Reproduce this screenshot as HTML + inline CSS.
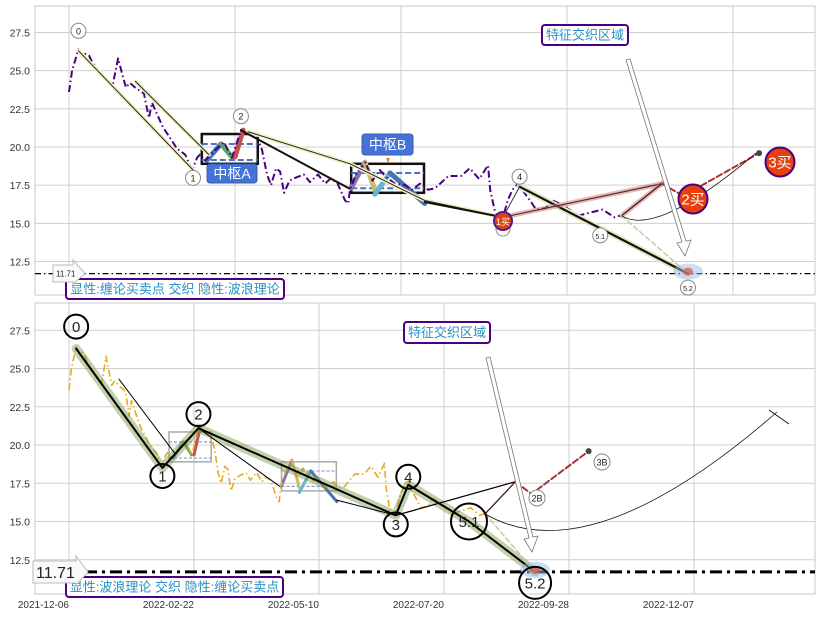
<!DOCTYPE html>
<html><head><meta charset="utf-8">
<style>
html,body{margin:0;padding:0;background:#fff;}
svg{display:block;font-family:"Liberation Sans","Noto Sans CJK SC",sans-serif;}
</style></head>
<body>
<svg id="chart" width="822" height="617" viewBox="0 0 822 617" xmlns="http://www.w3.org/2000/svg"></svg>
<script>
// ---- data ----
const priceIdx = [0,1.3,4,6,7,8.4,10,13,15.6,17.3,18.5,20.7,22.4,24,25.7,27.8,31.6,33.7,35,36.7,39.6,42.6,45.5,49,51,52.3,54,55.2,57.4,61.6,65.4,68.7,72.5,76.3,79.7,81.4,83.5,85.2,87.3,89,90.7,93,95.7,99,101.6,105,108,110,113,116.4,117.7,118.5,121,125,128,131,134,137.5,141.7,144.7,148,151.4,154.4,160,165.3,169,173,176.7,177.6,180,183,185,187,190,192,194.4,197,201,204,208,211,214.7,219.7,225,230,232.4];
const priceVal = [23.6,25.0,26.4,26.0,26.1,26.0,25.5,24.9,24.4,24.2,24.1,25.8,24.8,23.9,24.2,23.9,23.5,21.9,22.9,22.3,21.3,20.6,19.9,19.5,18.8,18.6,19.3,19.5,19.1,19.8,20.3,19.3,21.1,20.8,20.5,19.8,18.2,17.5,18.6,18.4,17.0,17.8,18.0,18.2,17.7,18.2,17.6,17.9,17.7,16.5,16.3,17.2,18.2,19.0,17.8,18.5,18.0,17.6,17.5,17.2,17.6,17.2,17.3,18.1,18.1,18.6,17.9,18.8,17.2,15.5,15.4,16.5,17.2,17.7,17.0,16.5,15.9,16.0,16.5,16.2,15.9,15.5,15.7,15.9,15.4,15.5];
const pivotIdx = [4,52.3,72.5,183,190,224,261];
const pivotVal = [26.3,18.5,21.1,15.4,17.4,15.0,11.71];
const pivotLbl = ["0","1","2","3","4","5.1","5.2"];
const yTicks = [12.5,15,17.5,20,22.5,25,27.5];
const xTickIdx = [0,70,140,210,280,350];
const xTickLbl = ["2021-12-06","2022-02-22","2022-05-10","2022-07-20","2022-09-28","2022-12-07"];
const zsA = [56,79.6,20.85,18.9];  // i0,i1,high,low
const zsAmid = [20.2,19.15];
const zsB = [119,149.7,18.9,17.0];
const zsBmid = [18.3,17.3];
const strokesA = [[58.2,19.15,64.1,20.2,"#4472c4"],[64.1,20.2,68.7,19.35,"#55a868"],[70,19.35,73.4,21.1,"#c44e52"]];
const strokesB = [[118.9,17.3,124.8,19.0,"#8172b2"],[124.8,19.0,129,17.2,"#ccb974"],[129,16.9,135.4,18.3,"#64b5cd"],[135.4,18.3,150,16.3,"#4c72b0"]];
const segLineB = [[28,24.3],[59,19.5]];
const segLineC = [[75.5,21.0],[118.5,18.9],[150,16.5],[183,15.4]];
const segLineD = [[72.5,21.1],[118,17.3]];
const segLineD2 = [[150,16.4],[183,15.4]];
const buyPeak = [250,17.6];
const buyStart = [233,15.5];
const buy2 = [263,16.5];
const buy3 = [291,19.6];
const support = 11.71;

const NS="http://www.w3.org/2000/svg";
const svg=document.getElementById('chart');
function mk(tag,attrs,parent){const e=document.createElementNS(NS,tag);for(const k in attrs)e.setAttribute(k,attrs[k]);(parent||svg).appendChild(e);return e;}

const panels=[
 {name:'top',L:35,R:815,T:6,B:295,sx:166/70,y20:147,sy:15.27,top:true},
 {name:'bottom',L:35,R:815,T:303,B:594,sx:125/70,y20:445,sy:15.3,top:false}
];

panels.forEach(P=>{
 const X=i=>69+i*P.sx, Y=v=>P.y20-(v-20)*P.sy;
 const g=mk('g',{});
 
 
 // gridlines
 yTicks.forEach(t=>{
  const l=mk('line',{x1:P.L,x2:P.R,y1:Y(t),y2:Y(t),stroke:'#cfcfcf','stroke-width':1},g);
  
  
  const tx=mk('text',{x:30,y:Y(t)+4,'font-size':10.5,fill:'#333','text-anchor':'end'},g);
  tx.textContent=t.toFixed(1);
  
  
 });
 xTickIdx.forEach((t,k)=>{
  if(X(t)>P.R)return;
  const l=mk('line',{x1:X(t),x2:X(t),y1:P.T,y2:P.B,stroke:'#cfcfcf','stroke-width':1},g);
  
  
  if(!P.top){
   const tx=mk('text',{x:X(t),y:608,'font-size':10,fill:'#333','text-anchor':'end'},g);
   tx.textContent=xTickLbl[k];
   
   
  }
 });
 const fr=mk('rect',{x:P.L,y:P.T,width:P.R-P.L,height:P.B-P.T,fill:'none',stroke:'#c8c8c8'},g);
 
 

 const poly=(pts,st,w,extra)=>{const p=mk('polyline',Object.assign({points:pts.map(q=>X(q[0])+','+Y(q[1])).join(' '),fill:'none',stroke:st,'stroke-width':w,'stroke-linejoin':'round','stroke-linecap':'round'},extra||{}),g);return p;};

 // support line
 const sl=mk('line',{x1:P.L,x2:P.R,y1:Y(support),y2:Y(support),stroke:'#000','stroke-width':P.top?1.2:3,'stroke-dasharray':P.top?'6,3,1.5,3':'12,5,3,5'},g);
 
 

 // zhongshu boxes
 [[zsA,zsAmid,strokesA,'a'],[zsB,zsBmid,strokesB,'b']].forEach(([z,m,s,n])=>{
  const r=mk('rect',{x:X(z[0]),y:Y(z[2]),width:X(z[1])-X(z[0]),height:Y(z[3])-Y(z[2]),fill:'none',stroke:P.top?'#111':'#aaa','stroke-width':P.top?2.5:1.5},g);
  
  
  m.forEach(v=>{const l=mk('line',{x1:X(z[0]),x2:X(z[1]),y1:Y(v),y2:Y(v),stroke:'#4472c4','stroke-width':P.top?2:0.8,'stroke-dasharray':P.top?'6,3':'3,2'},g);
   
   });
  s.forEach(q=>{const l=mk('line',{x1:X(q[0]),y1:Y(q[1]),x2:X(q[2]),y2:Y(q[3]),stroke:q[4],'stroke-width':P.top?5:3,'stroke-linecap':'round'},g);
   
   });
 });

 // price line
 const pts=priceIdx.map((d,k)=>[d,priceVal[k]]);
 const pl=poly(pts,P.top?'#4b0082':'#e8a820',P.top?2:1.6,{'stroke-dasharray':'7,3,1.5,3','stroke-linecap':'butt'});
 
 

 const piv=pivotIdx.map((d,k)=>[d,pivotVal[k]]);
 if(P.top){
  [segLineB,segLineC].forEach(s=>{poly(s,'#f0f0c0',4);const p=poly(s,'#222',1);});
  const a=[piv[0],piv[1]];poly(a,'#f0f0c0',4);const pa=poly(a,'#222',1);
  const d=poly(segLineD,'#111',2);
  const d2=poly(segLineD2,'#111',2);
  poly([piv[4],piv[6]],'#e8e8c0',6);
  const w=poly([piv[4],piv[6]],'#111',2.2);
  const w3=poly([piv[3],piv[4]],'#333',1);
 } else {
  const h=poly(piv,'rgba(120,150,70,0.45)',9);
  const w=poly(piv,'#000',2);
  [segLineB,segLineD,segLineD2].forEach(s=>{const p=poly(s,'#000',1);});
 }
 // buy structure
 poly([piv[3],buyPeak],'rgba(200,120,120,0.5)',P.top?5:1);
 const b1=poly([piv[3],buyPeak],P.top?'#5a2a2a':'#000',1.2);
 poly([buyPeak,buyStart],'rgba(200,120,120,0.5)',P.top?5:1);
 const b2=poly([buyPeak,buyStart],'#4a1a1a',1.3);
 const dl=poly([buyStart,piv[6]],'#c8c8a0',1.5,{'stroke-dasharray':'5,3'});
 const br=poly([buyPeak,[buy2[0]-4,buy2[1]+0.3],buy3],'#a83232',2,{'stroke-dasharray':'6,3'});
 const dot=mk('circle',{cx:X(buy3[0]),cy:Y(buy3[1]),r:3,fill:'#444'},g);
 // arc
 const sx=X(buyStart[0]),sy=Y(buyStart[1]);
 let ex,ey,cx,cy;
 if(P.top){ex=X(buy3[0])-3;ey=Y(buy3[1]);cx=X(buyStart[0])+35;cy=Y(buyStart[1])+22;}
 else{ex=777;ey=412;cx=590;cy=575;}
 const arc=mk('path',{d:`M${sx},${sy} Q${cx},${cy} ${ex},${ey}`,fill:'none',stroke:'#111','stroke-width':0.8},g);
 
 if(!P.top){const c=mk('line',{x1:769,y1:410,x2:789,y2:424,stroke:'#111','stroke-width':1},g);}
 // glow at 5.2
 const gx=X(piv[6][0]),gy=Y(piv[6][1]);
 mk('ellipse',{cx:gx,cy:gy-2,rx:15,ry:8,fill:'rgba(150,190,225,0.5)'},g);
 mk('ellipse',{cx:gx,cy:gy-2,rx:5,ry:4,fill:'rgba(220,80,80,0.7)'},g);
 // arrow
 const ax1=P.top?628:488,ay1=P.top?60:358,ax2=P.top?685:532,ay2=P.top?256:552;
 const ar=mk('path',{d:`M${ax1-2},${ay1} L${ax2-3},${ay2-14} L${ax2-8},${ay2-13} L${ax2},${ay2} L${ax2+6},${ay2-16} L${ax2+1},${ay2-15} L${ax1+2},${ay1-1}Z`,fill:'#fff',stroke:'#777','stroke-width':0.8},g);
 

 // pivot labels
 piv.forEach((p,k)=>{
  if(P.top && k===3)return;
  let x=X(p[0]),y=Y(p[1]);
  let off=P.top?[-20,8,-14,0,-10,12,14][k]:[-22,8,-14,9,-8,0,11][k];
  const r=P.top?7.5:(k===5?18:(k===6?16:12));
  const c=mk('circle',{cx:x,cy:y+off,r:r,fill:P.top?'#fff':'none',stroke:P.top?'#888':'#000','stroke-width':P.top?1:2},g);
  
  
  const t=mk('text',{x:x,y:y+off+(P.top?3.5:5.5),'font-size':P.top?(k>=5?7:9):15,fill:'#222','text-anchor':'middle'},g);
  t.textContent=pivotLbl[k];
  
  
 });
});

// top-panel specific annotations
function label(x,y,w,h,text,name,opts){
 const g=mk('g',{});
 
 
 mk('rect',Object.assign({x:x,y:y,width:w,height:h,rx:3},opts.rect),g);
 const t=mk('text',{x:x+w/2,y:y+h/2+opts.fs*0.36,'font-size':opts.fs,fill:opts.color,'text-anchor':'middle'},g);
 t.textContent=text;
}
label(207,164,50,19,'中枢A','zhongshu-a-label',{fs:14,color:'#fff',rect:{fill:'#4472d8',stroke:'#3a5fb0'}});
label(362,134,51,21,'中枢B','zhongshu-b-label',{fs:14,color:'#fff',rect:{fill:'#4472d8',stroke:'#3a5fb0'}});
mk('path',{d:'M386,158 L390,158 L388,163Z',fill:'#e08030'});
// 1买 / 3 marker
(function(){
 const g=mk('g',{});
 mk('circle',{cx:503,cy:229,r:7,fill:'#fff',stroke:'#888'},g);
 mk('circle',{cx:503,cy:221,r:9,fill:'#e8400c',stroke:'#5a1a8a','stroke-width':2},g);
 const t=mk('text',{x:503,y:225,'font-size':9,fill:'#fff','text-anchor':'middle'},g);t.textContent='1买';
})();
[[693,199,'2买','buy-2-marker'],[780,162,'3买','buy-3-marker']].forEach(a=>{
 const g=mk('g',{});
 mk('circle',{cx:a[0],cy:a[1],r:14.5,fill:'#e8400c',stroke:'#4b0082','stroke-width':2},g);
 const t=mk('text',{x:a[0],y:a[1]+5.5,'font-size':15,fill:'#fff','text-anchor':'middle'},g);t.textContent=a[2];
});
// bottom 2B/3B
[[537,498,'2B','buy-2b-label'],[602,462,'3B','buy-3b-label']].forEach(a=>{
 const g=mk('g',{});
 mk('circle',{cx:a[0],cy:a[1],r:8,fill:'#fff',stroke:'#888'},g);
 const t=mk('text',{x:a[0],y:a[1]+3.5,'font-size':9,fill:'#222','text-anchor':'middle'},g);t.textContent=a[2];
});
// feature boxes
label(542,25,86,20,'特征交织区域','feature-zone-label-top',{fs:13,color:'#2a8fc0',rect:{fill:'#fff',stroke:'#4b0082','stroke-width':2}});
label(404,322,86,21,'特征交织区域','feature-zone-label-bottom',{fs:13,color:'#2a8fc0',rect:{fill:'#fff',stroke:'#4b0082','stroke-width':2}});
label(66,279,218,20,'显性:缠论买卖点 交织 隐性:波浪理论','mode-label-top',{fs:13,color:'#2a8fc0',rect:{fill:'#fff',stroke:'#4b0082','stroke-width':2}});
label(66,577,217,20,'显性:波浪理论 交织 隐性:缠论买卖点','mode-label-bottom',{fs:13,color:'#2a8fc0',rect:{fill:'#fff',stroke:'#4b0082','stroke-width':2}});
// support value tags
[[53,265,32,17,8,'support-tag-top'],[33,561,55,22,16,'support-tag-bottom']].forEach(a=>{
 const g=mk('g',{});
 const [x,y,w,h,fs]=a;
 mk('path',{d:`M${x},${y} L${x+w-12},${y} L${x+w-12},${y-5} L${x+w},${y+h/2} L${x+w-12},${y+h+2} L${x+w-12},${y+h} L${x},${y+h}Z`,fill:'#fafafa',stroke:'#bbb'},g);
 const t=mk('text',{x:x+3,y:y+h/2+fs*0.36,'font-size':fs,fill:'#222'},g);t.textContent=support.toFixed(2);
});
</script>
</body></html>
